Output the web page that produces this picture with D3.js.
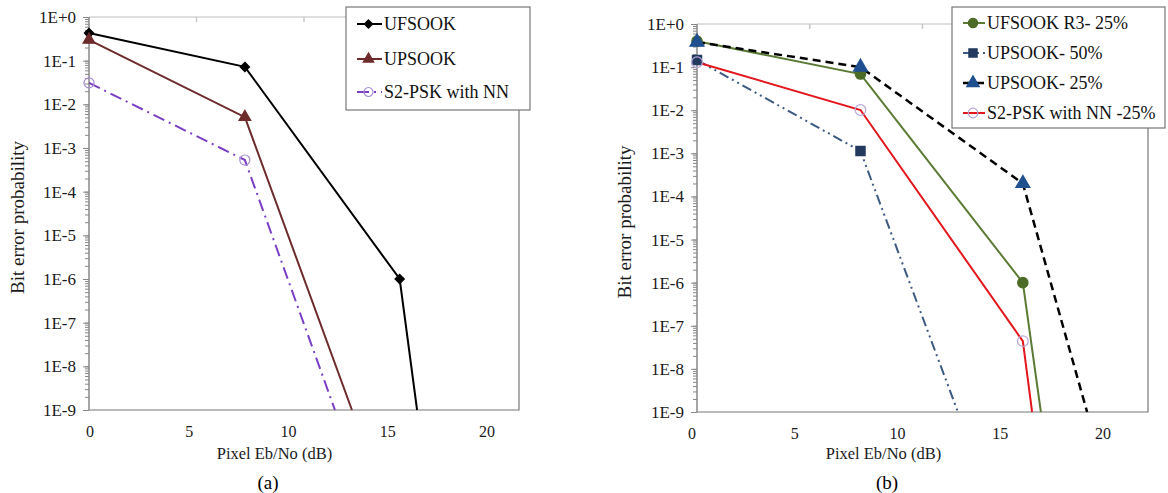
<!DOCTYPE html>
<html>
<head>
<meta charset="utf-8">
<script src="https://cdn.jsdelivr.net/npm/d3@7"></script>
<style>
  body { margin: 0; background: #fff; }
  svg { display: block; font-family: "Liberation Serif", "Times New Roman", serif; }
</style>
</head>
<body>
<svg id="chart" width="1168" height="493"></svg>
<script>
// BER curves, two panels (a) and (b)
const FONT = "Liberation Serif";

// axis labels
const xLabelTicks = [0, 5, 10, 15, 20];
const xBorderTicks = [5, 10, 15];
const yMajorTicks = [1, 1e-1, 1e-2, 1e-3, 1e-4, 1e-5, 1e-6, 1e-7, 1e-8, 1e-9];
const yMajorLabels = ["1E+0", "1E-1", "1E-2", "1E-3", "1E-4", "1E-5", "1E-6", "1E-7", "1E-8", "1E-9"];

// panel (a) series: [Eb/No, BER]; last point runs off the 1E-9 floor
const ufsookA = [[0, 0.43], [7.25, 0.072], [14.45, 1.0e-6], [15.26, 1e-9]];
const upsookA = [[0, 0.30], [7.25, 0.0051], [12.23, 1e-9]];
const s2pskA  = [[0, 0.031], [7.25, 5.3e-4], [11.44, 1e-9]];

// panel (b) series
const ufsookR3B = [[0, 0.40], [7.25, 0.069], [14.45, 1.0e-6], [15.25, 1e-9]];
const upsook50B = [[0, 0.146], [7.25, 1.13e-3], [11.57, 1e-9]];
const upsook25B = [[0, 0.38], [7.25, 0.10], [14.45, 2.0e-4], [17.3, 1e-9]];
const s2pskB    = [[0, 0.13], [7.25, 0.0101], [14.45, 4.4e-8], [14.86, 1e-9]];

const namesA = ["UFSOOK", "UPSOOK", "S2-PSK with NN"];
const namesB = ["UFSOOK R3- 25%", "UPSOOK- 50%", "UPSOOK- 25%", "S2-PSK with NN -25%"];

const svg = d3.select("#chart");

const panels = [
  {
    box: { left: 89, right: 519, top: 17, bottom: 410 },
    lab: [90, 487], caption: "(a)", capX: 268, titleX: 18,
    legend: { x: 346, y: 7, w: 184, h: 103, rowY: [24, 59, 92], symX: [357, 382], textX: 384 },
    series: [
      { name: namesA[0], data: ufsookA, color: "#000", dash: null, width: 2,
        marker: "diamond", mFill: "#000", mStroke: "#000", mSize: 55 },
      { name: namesA[1], data: upsookA, color: "#6d2b2b", dash: null, width: 2,
        marker: "triangle", mFill: "#6d2b2b", mStroke: "#6d2b2b", mSize: 60 },
      { name: namesA[2], data: s2pskA, color: "#7a3fc4", dash: "12,5,2,5", width: 2,
        marker: "circle", mFill: "none", mStroke: "#a58bd3", mSize: 80 }
    ]
  },
  {
    box: { left: 697, right: 1148, top: 24, bottom: 412 },
    lab: [692, 1103], caption: "(b)", capX: 887, titleX: 625,
    legend: { x: 952, y: 7, w: 213, h: 121, rowY: [23, 53, 83, 113], symX: [963, 985], textX: 987 },
    series: [
      { name: namesB[0], data: ufsookR3B, color: "#5b7b34", dash: null, width: 2,
        marker: "circle", mFill: "#4b6b26", mStroke: "#4b6b26", mSize: 85 },
      { name: namesB[1], data: upsook50B, color: "#3c5a82", dash: "10,4,2,4,2,4", width: 2,
        marker: "square", mFill: "#233a5e", mStroke: "#233a5e", mSize: 85 },
      { name: namesB[2], data: upsook25B, color: "#000", dash: "8,5", width: 2.5,
        marker: "triangle", mFill: "#1f4f8f", mStroke: "#1f4f8f", mSize: 85 },
      { name: namesB[3], data: s2pskB, color: "#e3161c", dash: null, width: 2,
        marker: "circle", mFill: "none", mStroke: "#b9a6d8", mSize: 90 }
    ]
  }
];

const symbolType = {
  diamond: d3.symbolDiamond2 || d3.symbolDiamond,
  triangle: d3.symbolTriangle,
  circle: d3.symbolCircle,
  square: d3.symbolSquare
};

panels.forEach(p => drawPanel(p));

function drawPanel(p) {
  const b = p.box;
  const x = d3.scaleLinear().domain([0, 20]).range([b.left, b.right]);
  const xLab = d3.scaleLinear().domain([0, 20]).range(p.lab);
  const y = d3.scaleLog().domain([1, 1e-9]).range([b.top, b.bottom]);

  const g = svg.append("g");

  // top border (light) with small ticks
  g.append("line").attr("x1", b.left).attr("x2", b.right).attr("y1", b.top).attr("y2", b.top)
    .attr("stroke", "#d4d4d4").attr("stroke-width", 1.5);
  g.selectAll("line.tt").data(xBorderTicks).join("line").attr("class", "tt")
    .attr("x1", d => x(d)).attr("x2", d => x(d)).attr("y1", b.top).attr("y2", b.top + 5)
    .attr("stroke", "#c8c8c8").attr("stroke-width", 1.5);
  // right + bottom border
  g.append("path")
    .attr("d", `M${b.right},${b.top}V${b.bottom}H${b.left}`)
    .attr("fill", "none").attr("stroke", "#777").attr("stroke-width", 1.2);

  // y axis: minor ticks then major ticks + labels
  const gMinor = g.append("g").attr("transform", `translate(${b.left},0)`)
    .call(d3.axisLeft(y).tickValues(y.ticks()).tickSize(4).tickFormat(""));
  gMinor.select(".domain").remove();
  gMinor.selectAll("line").attr("stroke", "#888");

  const gY = g.append("g").attr("transform", `translate(${b.left},0)`)
    .call(d3.axisLeft(y).tickValues(yMajorTicks).tickSize(6).tickPadding(7)
      .tickFormat((d, i) => yMajorLabels[i]));
  gY.attr("font-family", FONT).attr("font-size", 17);
  gY.select(".domain").attr("stroke", "#888").attr("stroke-width", 1.5)
    .attr("d", `M0,${b.top}V${b.bottom}`);
  gY.selectAll("line").attr("stroke", "#888");
  gY.selectAll("text").attr("fill", "#1a1a1a");

  // x tick labels (no tick marks)
  g.selectAll("text.xl").data(xLabelTicks).join("text").attr("class", "xl")
    .attr("x", d => xLab(d)).attr("y", b.bottom + 27)
    .attr("text-anchor", "middle").attr("font-size", 16).attr("fill", "#1a1a1a")
    .text(d => d);

  // axis titles + caption
  const mid = (p.lab[0] + p.lab[1]) / 2;
  g.append("text").attr("x", mid - 14).attr("y", 459).attr("text-anchor", "middle")
    .attr("font-size", 16.5).attr("fill", "#1a1a1a").text("Pixel Eb/No (dB)");
  g.append("text")
    .attr("transform", `translate(${p.titleX + 6},${(b.top + b.bottom) / 2 + 4}) rotate(-90)`)
    .attr("text-anchor", "middle").attr("font-size", 19).attr("fill", "#1a1a1a")
    .text("Bit error probability");
  g.append("text").attr("x", p.capX).attr("y", 489).attr("text-anchor", "middle")
    .attr("font-size", 19).attr("fill", "#000").text(p.caption);

  // lines
  const line = d3.line().x(d => x(d[0])).y(d => y(d[1]));
  const gPlot = g.append("g");
  p.series.forEach(s => {
    gPlot.append("path").datum(s.data).attr("d", line)
      .attr("fill", "none").attr("stroke", s.color).attr("stroke-width", s.width)
      .attr("stroke-dasharray", s.dash);
  });
  // markers (not on the floor point)
  p.series.forEach(s => {
    const sym = d3.symbol().type(symbolType[s.marker]).size(s.mSize);
    gPlot.selectAll(null).data(s.data.filter(d => d[1] > 1e-9)).join("path")
      .attr("transform", d => `translate(${x(d[0])},${y(d[1])})`)
      .attr("d", sym)
      .attr("fill", s.mFill).attr("stroke", s.mStroke).attr("stroke-width", 1.2);
  });

  // legend
  const L = p.legend;
  const gL = g.append("g");
  gL.append("rect").attr("x", L.x).attr("y", L.y).attr("width", L.w).attr("height", L.h)
    .attr("fill", "#fff").attr("stroke", "#777").attr("stroke-width", 1.2);
  const items = gL.selectAll("g.item").data(p.series).join("g").attr("class", "item")
    .attr("transform", (d, i) => `translate(0,${L.rowY[i]})`);
  items.append("line").attr("x1", L.symX[0]).attr("x2", L.symX[1])
    .attr("stroke", d => d.color).attr("stroke-width", d => d.width)
    .attr("stroke-dasharray", d => d.dash);
  items.append("path")
    .attr("transform", `translate(${(L.symX[0] + L.symX[1]) / 2 - 1},0)`)
    .attr("d", d => d3.symbol().type(symbolType[d.marker]).size(d.mSize * 0.8)())
    .attr("fill", d => d.mFill).attr("stroke", d => d.mStroke).attr("stroke-width", 1.2);
  items.append("text").attr("x", L.textX).attr("y", 6)
    .attr("font-size", 18).attr("fill", "#111").text(d => d.name);
}
</script>
</body>
</html>
